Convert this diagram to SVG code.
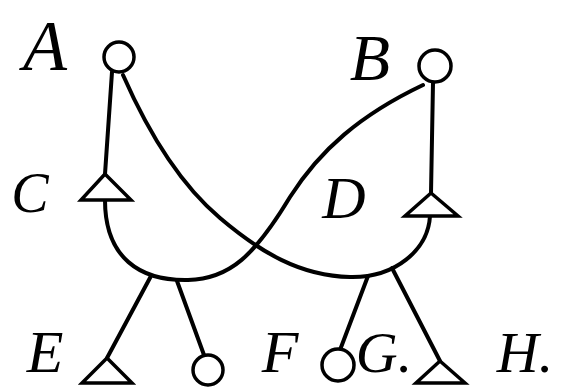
<svg xmlns="http://www.w3.org/2000/svg" width="570" height="387" viewBox="0 0 570 387">
<style>
.ln{fill:none;stroke:#000;stroke-width:4;stroke-linecap:round;stroke-linejoin:round}
.nd{fill:#fff;stroke:#000;stroke-width:3.5;stroke-linejoin:miter}
.lb{font-family:"Liberation Serif",serif;font-style:italic;fill:#000;text-anchor:middle}
</style>
<rect width="570" height="387" fill="#fff"/>
<g id="connectors">
<path class="ln" d="M112,72 L105,174"/>
<path class="ln" d="M433,83 L431,193"/>
<path class="ln" d="M105,200 C105,258 140,281 188,280 C230,279 255,255 290,197 C320,150 360,115 423,85"/>
<path class="ln" d="M123,75 C145,125 175,180 220,218 C260,252 300,276 350,277 C395,278 428,250 430,216"/>
<path class="ln" d="M151,276 L107,358"/>
<path class="ln" d="M177,281 L204,355"/>
<path class="ln" d="M368,276 L340,350"/>
<path class="ln" d="M392,268 L440,361"/>
</g>
<g id="A"><circle class="nd" cx="119" cy="57" r="15"/><text class="lb" x="45" y="70" font-size="72">A</text></g>
<g id="B"><circle class="nd" cx="435" cy="66" r="16"/><text class="lb" x="370" y="80" font-size="66">B</text></g>
<g id="C"><polygon class="nd" points="105,174 81,200 131,200"/><text class="lb" x="30" y="212" font-size="56">C</text></g>
<g id="D"><polygon class="nd" points="431,193 405,216 458,216"/><text class="lb" x="344" y="218" font-size="60">D</text></g>
<g id="E"><polygon class="nd" points="107,358 82,383 132,383"/><text class="lb" x="45" y="372" font-size="60">E</text></g>
<g id="F"><circle class="nd" cx="208" cy="370" r="15"/><text class="lb" x="280" y="372" font-size="60">F</text></g>
<g id="G"><circle class="nd" cx="338" cy="365" r="16"/><text class="lb" x="384" y="372" font-size="58">G.</text></g>
<g id="H"><polygon class="nd" points="440,361 416,383 465,383"/><text class="lb" x="525" y="372" font-size="58">H.</text></g>
</svg>
